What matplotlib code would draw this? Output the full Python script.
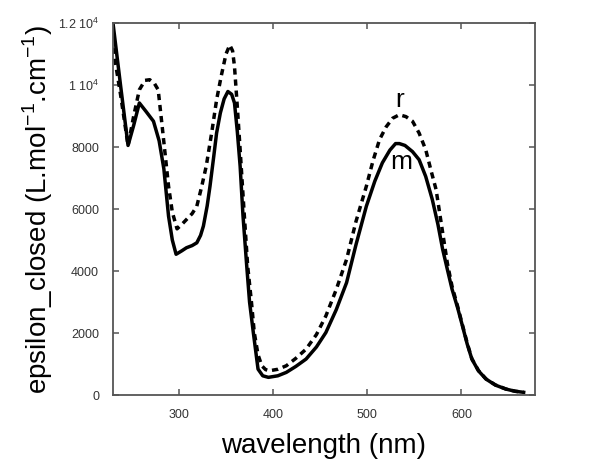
import matplotlib
matplotlib.use("Agg")
import matplotlib.pyplot as plt
from matplotlib.ticker import FixedLocator

# solid curve (m)
wl_m = [230, 238, 246, 252, 258, 265, 273, 279, 284, 289, 293, 297, 303, 308,
        314, 319, 323, 326, 330, 333, 337, 340, 344, 348, 352, 356, 359, 362,
        365, 368, 372, 375, 379, 384, 389, 395, 405, 414, 424, 435, 446, 456,
        467, 478, 488, 499, 508, 516, 524, 530, 534, 540, 548, 555, 562, 569,
        575, 580, 585, 590, 596, 601, 606, 611, 618, 626, 636, 647, 657, 666]
eps_m = [12000, 10000, 8050, 8700, 9420, 9150, 8830, 8200, 7300, 5770, 5000,
         4540, 4650, 4750, 4820, 4910, 5150, 5450, 6100, 6735, 7700, 8450, 9100,
         9550, 9790, 9700, 9420, 8500, 7380, 5800, 4160, 3000, 2015, 836, 620,
         570, 620, 730, 920, 1160, 1550, 2015, 2750, 3625, 4850, 6090, 6900,
         7490, 7900, 8110, 8110, 8050, 7850, 7590, 7050, 6306, 5500, 4700, 4050,
         3410, 2800, 2230, 1650, 1160, 780, 515, 320, 193, 120, 87]

# dashed curve (r)
wl_r = [230, 238, 246, 252, 258, 264, 269, 274, 278, 283, 289, 293, 298, 303,
        308, 314, 319, 324, 329, 335, 340, 345, 350, 354, 357, 359, 362, 365,
        369, 373, 377, 380, 384, 388, 392, 396, 405, 414, 424, 435, 446, 456,
        467, 478, 488, 499, 506, 513, 520, 527, 534, 541, 548, 555, 562, 568,
        573, 580, 585, 590, 596, 601, 606, 611, 618, 626, 636, 647, 657, 666]
eps_r = [11200, 9700, 8050, 9000, 9845, 10150, 10170, 10050, 9845, 8450, 6735,
         5900, 5360, 5500, 5660, 5850, 6090, 6700, 7380, 8500, 9520, 10300,
         11000, 11290, 11100, 10600, 9300, 7915, 6000, 4160, 3000, 2015, 1300,
         943, 820, 782, 830, 943, 1180, 1480, 1950, 2550, 3400, 4375, 5600,
         6735, 7550, 8240, 8650, 8930, 9040, 8980, 8830, 8450, 7915, 7200, 6630,
         5240, 4250, 3500, 2850, 2260, 1680, 1170, 790, 520, 325, 195, 122, 88]

x_ticks = [300, 400, 500, 600]
y_ticks = [0, 2000, 4000, 6000, 8000, 10000, 12000]
y_tick_labels = ["0", "2000", "4000", "6000", "8000", r"1 10$^4$", r"1.2 10$^4$"]

plt.rcParams["font.family"] = ["Liberation Sans", "DejaVu Sans"]
plt.rcParams["mathtext.fontset"] = "custom"
plt.rcParams["mathtext.rm"] = "Liberation Sans"

fig = plt.figure(figsize=(6.1, 4.59), dpi=100)
ax = fig.add_axes([0.1852, 0.1394, 0.6918, 0.8105])

ax.plot(wl_m, eps_m, color="black", lw=2.5, solid_joinstyle="round")
ax.plot(wl_r, eps_r, color="black", lw=2.5, linestyle=(0, (1.8, 1.4)))

ax.text(534, 9300, "r", fontsize=19, ha="center", va="baseline")
ax.text(536, 7900, "m", fontsize=19, ha="center", va="top")

ax.set_xlim(230, 678)
ax.set_ylim(0, 12000)
ax.xaxis.set_major_locator(FixedLocator(x_ticks))
ax.yaxis.set_major_locator(FixedLocator(y_ticks))
ax.set_yticklabels(y_tick_labels)

for sp in ax.spines.values():
    sp.set_color("#555555")
    sp.set_linewidth(1.3)
ax.tick_params(direction="in", length=4, width=1.1, color="#555555",
               top=True, right=True, labelsize=9, labelcolor="#333333", pad=10)

ax.set_xlabel("wavelength (nm)", fontsize=20, labelpad=9)
ax.set_ylabel(r"epsilon_closed (L.mol$^{\mathregular{-1}}$.cm$^{\mathregular{-1}}$)",
              fontsize=20, labelpad=2)

fig.savefig("out.png", dpi=100)
